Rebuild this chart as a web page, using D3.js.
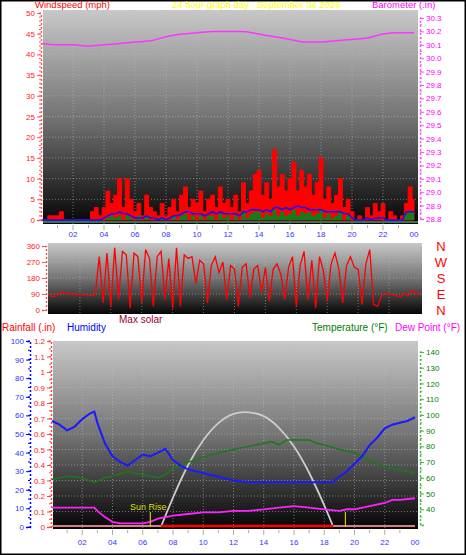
<!DOCTYPE html>
<html><head><meta charset="utf-8">
<script src="https://cdn.jsdelivr.net/npm/d3@7"></script>
<style>body{margin:0;background:#fff}svg{display:block;font-family:"Liberation Sans",Arial,sans-serif}</style>
</head><body><svg id="c" width="466" height="555"></svg>
<script>
const hourLabels=["02","04","06","08","10","12","14","16","18","20","22","00"];
const q15=d3.range(0,24.01,0.25);
const baroHours=d3.range(0,25);
const barometer=[30.11,30.10,30.10,30.09,30.10,30.11,30.12,30.13,30.16,30.18,30.19,30.20,30.20,30.20,30.18,30.16,30.14,30.12,30.12,30.13,30.14,30.15,30.18,30.19,30.19];
const gust=[0,0,1,1, 1,2,0,0, 0,0,0,0, 0,2,3,1, 3,7,4,6, 10,3,10,5, 2,4,1,6, 3,2,1,4, 1,3,5,2, 6,8,3,5, 4,7,2,5, 6,3,8,4, 5,3,6,2, 9,4,7,11, 12,6,9,5, 17,8,11,7, 10,14,7,12, 8,11,6,9, 15,5,8,4, 6,10,3,5, 2,0,1,0, 3,1,4,2, 4,0,2,1, 0,1,4,8, 5];
const avgWind=[0,0,0,0, 0,0,0,0, 0,0,0,0, 0,0,0,0, 0.5,1,1.5,1.5, 2,1.5,1.5,1, 0.5,0.5,0.5,1, 0.5,0.5,0,0.5, 0,0.5,1,1, 1.5,2,2,1.5, 1.5,1.5,1,1.5, 2,1.5,2,1.5, 1.5,1.5,1.5,1, 2,2,2.5,2.5, 2.5,2,2.5,2, 3,3,2.5,3, 2.5,3,3.5,3, 3,2.5,2.5,2.5, 2.5,2,2,2, 2,2,1.5,1.5, 0.5,0,0,0, 0.5,0,0.5,0.5, 0.5,0,0,0, 0,0,2,2, 2];
const windSpeed=[0,0,0,0, 0,0,0,0, 0,0,0,0, 0,0,0,0, 0,0.5,1,0.5, 1,0,1,0.5, 0,1,0,1, 0,0,0,0.5, 0,0,1,0, 1,1.5,0,1, 0,1,0,1, 1,0,1.5,0.5, 1,0,1,0, 2,0.5,1.5,2, 2,0.5,1.5,1, 2.5,1,2,1, 1.5,2.5,1,2, 1.5,2,1,1.5, 2.5,0.5,1.5,0.5, 1,2,0,1, 0,0,0,0, 0,0,0,0, 0,0,0,0, 0,0,1.5,2, 2];
const windDir=[85,75,80,100, 95,90,90,88, 88,85,85,80, 90,300,40,320, 20,350,60,330, 310,10,320,300, 40,340,290,20, 300,330,60,290, 10,350,20,310, 290,300,150,280, 260,40,250,300, 210,270,60,250, 230,20,240,260, 70,230,250,100, 240,50,230,260, 200,60,240,300, 20,250,330,60, 280,10,300,220, 50,260,320,230, 40,250,300,240, 230,30,260,340, 30,20,80,90, 90,85,80,75, 95,80,110,90, 90];
const humHours=[0,0.5,1,1.5,2,2.5,2.8,3,3.5,4,4.5,5,5.5,6,6.5,7,7.5,8,8.5,9,9.5,10,10.5,11,11.5,12,13,14,15,16,17,18,18.5,19,19.5,20,20.5,21,21.5,22,22.5,23,23.5,24];
const humidity=[57,55,52,54,58,61,62,56,45,38,35,33,36,39,38,40,42,36,33,31,30,29,28,27,26,25,24,24,24,24,24,24,24,27,30,34,38,44,48,53,55,56,57,59];
const tempHours=[0,1,2,2.8,3.5,4,5,6,6.5,7,7.5,8,9,10,11,12,13,14,14.5,15,15.5,16,17,17.5,18,19,20,21,22,23,24];
const temperature=[59,61,60,57,60,61,64,62,61,60,62,66,70,73,76,78,80,82,83,81,84,84,84,82,81,78,76,71,67,65,63];
const dewHours=[0,1,2,2.8,3,3.5,4,4.5,5,6,6.5,7,8,9,10,11,12,13,14,15,16,17,18,19,19.5,20,21,22,22.5,23,24];
const dewPoint=[41,41,41,41,39,35,32,31,31,31,32,34,36,37,38,38,39,39,40,41,42,41,40,39,40,40,42,44,46,46,47];
const solarHours=[7.2,8,9,10,11,12,13,14,15,16,17,18,18.6];
const maxSolar=[0,190,400,560,670,730,740,715,640,520,350,140,0];
const sunRise=6.5, sunSet=19.4;
const rainHours=[0,24];
const rainfall=[0,0];

const svg=d3.select("#c");
svg.append("rect").attr("x",0.5).attr("y",0.5).attr("width",465).attr("height",554).attr("fill","#fff").attr("stroke","#000").attr("stroke-width",2);
const defs=svg.append("defs");
const g=defs.append("linearGradient").attr("id","bg").attr("x1",0).attr("y1",0).attr("x2",0).attr("y2",1);
g.append("stop").attr("offset","0").attr("stop-color","#c8c8c8");
g.append("stop").attr("offset","0.5").attr("stop-color","#747474");
g.append("stop").attr("offset","1").attr("stop-color","#050505");

function panel(x0,x1,y0,y1){
  svg.append("rect").attr("x",x0).attr("y",y0).attr("width",x1-x0).attr("height",y1-y0).attr("fill","url(#bg)");
}
function grid(x,y,xs,ys,x0,x1,y0,y1){
  const gg=svg.append("g").attr("stroke","#bbb").attr("stroke-opacity",0.55).attr("stroke-dasharray","1,2");
  xs.forEach(v=>gg.append("line").attr("x1",x(v)).attr("x2",x(v)).attr("y1",y0).attr("y2",y1));
  ys.forEach(v=>gg.append("line").attr("x1",x0).attr("x2",x1).attr("y1",y(v)).attr("y2",y(v)));
}
function text(x,y,s,c,size,anchor){svg.append("text").attr("x",x).attr("y",y).attr("fill",c).attr("font-size",size||9).attr("text-anchor",anchor||"start").text(s);}
function yaxis(scale,x,ticks,fmt,col,side,minorStep,lab){
  const a=(side==="right"?d3.axisRight(scale):d3.axisLeft(scale)).tickValues(ticks).tickFormat(fmt).tickSize(4).tickPadding(2);
  const ga=svg.append("g").attr("transform",`translate(${x},0)`).call(a);
  ga.select(".domain").attr("stroke",col).attr("stroke-dasharray","2,2").attr("stroke-width",1.5);
  ga.selectAll("line").attr("stroke",col);
  ga.selectAll("text").attr("fill",lab||col).attr("font-size",8).attr("font-family","Liberation Sans,Arial");
  if(minorStep){
    const [a0,a1]=scale.domain();
    d3.range(Math.ceil(a0/minorStep)*minorStep,a1+1e-9,minorStep).forEach(v=>{
      ga.append("line").attr("x1",0).attr("x2",side==="right"?2:-2).attr("y1",scale(v)).attr("y2",scale(v)).attr("stroke",col);
    });
  }
}
function xlabels(x,y,col){
  hourLabels.forEach((l,i)=>text(x((i+1)*2),y,l,col,8,"middle"));
}
function xminor(x,y){
  d3.range(1,24).forEach(h=>svg.append("line").attr("x1",x(h)).attr("x2",x(h)).attr("y1",y).attr("y2",y+(h%2?3:5)).attr("stroke","#aaa"));
}

// ===== Top panel
const xT=d3.scaleLinear().domain([0,24]).range([42,414]);
const yW=d3.scaleLinear().domain([0,50]).range([220,13]);
const yB=d3.scaleLinear().domain([28.8,30.3]).range([219,18]);
panel(43,418,10,224);
grid(xT,yW,d3.range(2,24,2),d3.range(5,50,5),43,418,10,224);
svg.append("path").datum(gust).attr("fill","#ff0000").attr("stroke","#ff0000").attr("stroke-width",1)
 .attr("d",d3.area().x((d,i)=>xT(q15[i])).y0(yW(0)).y1(d=>yW(d)).curve(d3.curveStep));
svg.append("path").datum(windSpeed).attr("fill","#1a7a1a")
 .attr("d",d3.area().x((d,i)=>xT(q15[i])).y0(yW(0)).y1(d=>yW(d)).curve(d3.curveStep));
svg.append("path").datum(avgWind).attr("fill","none").attr("stroke","#1010ff").attr("stroke-width",1.5)
 .attr("d",d3.line().x((d,i)=>xT(q15[i])).y(d=>yW(d)));
svg.append("line").attr("x1",43).attr("x2",418).attr("y1",222).attr("y2",222).attr("stroke","#2a7a5a").attr("stroke-width",2);
svg.append("path").datum(barometer).attr("fill","none").attr("stroke","#ff33ff").attr("stroke-width",1.5)
 .attr("d",d3.line().x((d,i)=>xT(baroHours[i])).y(d=>yB(d)).curve(d3.curveMonotoneX));
yaxis(yW,41,d3.range(0,51,5),d3.format("d"),"#ff5555","left",1,"#ff2020");
yaxis(yB,420,d3.range(28.8,30.31,0.1),d3.format(".1f"),"#ff55ff","right",0.05,"#ff00ff");
xminor(xT,225);
xlabels(xT,237,"#3333ff");
text(35,8,"Windspeed (mph)","#ff0000",9.5);
text(172,8,"24 hour graph day : September 04 2026","#ffff00",9.5);
text(372,8,"Barometer (.in)","#ff00ff",9.5);

// ===== Middle panel
const xM=d3.scaleLinear().domain([0,24]).range([49,420]);
const yD=d3.scaleLinear().domain([0,360]).range([310,246]);
panel(48,422,243,314);
grid(xM,yD,d3.range(2,24,2),[90,180,270],48,422,243,314);
svg.append("path").datum(windDir).attr("fill","none").attr("stroke","#ff0000").attr("stroke-width",1.3)
 .attr("d",d3.line().x((d,i)=>xM(q15[i])).y(d=>yD(d)));
yaxis(yD,46,[0,90,180,270,360],d3.format("d"),"#ff5555","left",null,"#ff2020");
["N","W","S","E","N"].forEach((s,i)=>text(441,yD(360-i*90)+5,s,"#ff0000",13,"middle"));
text(119,323,"Max solar","#990033",10);

// ===== Bottom panel
const xB=d3.scaleLinear().domain([0,24]).range([52,415]);
const yR=d3.scaleLinear().domain([0,1.2]).range([527,341]);
const yH=d3.scaleLinear().domain([0,100]).range([527,341]);
const yTmp=d3.scaleLinear().domain([30,140]).range([525,352]);
const yS=d3.scaleLinear().domain([0,1200]).range([527,341]);
panel(53,418,341,529);
grid(xB,yR,d3.range(2,24,2),d3.range(0.1,1.2,0.1),53,418,341,529);
text(2,331,"Rainfall (.in)","#ff0000",10);
text(67,331,"Humidity","#0000ff",10);
text(312,331,"Temperature (°F)","#008000",10);
text(395,331,"Dew Point (°F)","#ff00ff",10);
yaxis(yH,30,d3.range(0,101,10),d3.format("d"),"#0000ff","left",5,"#3333ff");
yaxis(yR,51,d3.range(0,1.21,0.1),d=>d===0?"0":d3.format(".1f")(d).replace(/\.0$/,""),"#ff4444","left",0.05,"#ff2020");
yaxis(yTmp,420,d3.range(40,141,10),d3.format("d"),"#44bb44","right",5,"#008000");
svg.append("path").datum(maxSolar).attr("fill","none").attr("stroke","#cccccc").attr("stroke-width",1.8)
 .attr("d",d3.line().x((d,i)=>xB(solarHours[i])).y(d=>yS(d)).curve(d3.curveNatural));
svg.append("path").datum(temperature).attr("fill","none").attr("stroke","#1a7a1a").attr("stroke-width",1.5)
 .attr("d",d3.line().x((d,i)=>xB(tempHours[i])).y(d=>yTmp(d)));
svg.append("path").datum(humidity).attr("fill","none").attr("stroke","#1a1aff").attr("stroke-width",2)
 .attr("d",d3.line().x((d,i)=>xB(humHours[i])).y(d=>yH(d)));
svg.append("path").datum(dewPoint).attr("fill","none").attr("stroke","#ff22ff").attr("stroke-width",1.8)
 .attr("d",d3.line().x((d,i)=>xB(dewHours[i])).y(d=>yTmp(d)));
svg.append("path").datum(rainfall).attr("fill","none").attr("stroke","#d88080").attr("stroke-width",2)
 .attr("d",d3.line().x((d,i)=>xB(rainHours[i])).y(d=>yR(d)-1));
svg.append("line").attr("x1",xB(7.2)).attr("x2",xB(18.6)).attr("y1",yR(0)-1).attr("y2",yR(0)-1).attr("stroke","#ff0000").attr("stroke-width",2.5);
[sunRise,sunSet].forEach(h=>svg.append("line").attr("x1",xB(h)).attr("x2",xB(h)).attr("y1",512).attr("y2",527).attr("stroke","#cccc00").attr("stroke-width",1.2));
text(130,510,"Sun Rise","#dddd00",9);
xminor(xB,530);
xlabels(xB,545,"#3333ff");
</script></body></html>
